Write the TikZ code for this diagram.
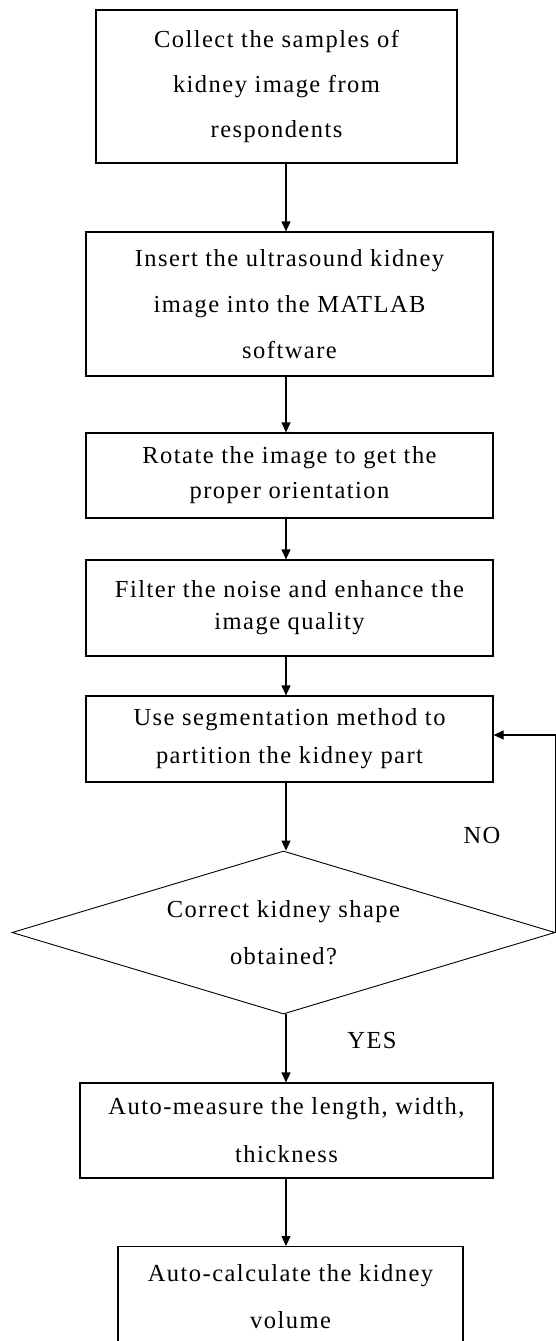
\documentclass[tikz,border=0pt]{standalone}
\usepackage{fontspec}
\setmainfont{Liberation Serif}[LetterSpace=6]
\usetikzlibrary{arrows.meta,shapes.geometric}
\begin{document}
\begin{tikzpicture}[x=1pt,y=-1pt,
  box/.style={draw, line width=1.2pt, rectangle, inner sep=0pt, align=center},
  dec/.style={draw, line width=0.9pt, diamond, aspect=3.33, inner sep=0pt, align=center},
  flow/.style={line width=1.2pt, -{Triangle[width=9pt,length=10pt]}},
  txt/.style={font=\fontsize{24.5}{#1}\selectfont},
  lbl/.style={font=\fontsize{24.5}{28}\selectfont, inner sep=0pt}
]
\useasboundingbox (0,0) rectangle (556,1341);
\coordinate (ax) at (286,0);
\coordinate (fb) at (0,735);

\node[box, txt=45, minimum width=361pt, minimum height=153pt] (b1) at (276.5,86.5)
  {Collect the samples of\\kidney image from\\respondents};
\node[box, txt=46, minimum width=407pt, minimum height=144pt] (b2) at (289.5,304)
  {Insert the ultrasound kidney\\image into the MATLAB\\software};
\node[box, txt=35, minimum width=407pt, minimum height=85pt] (b3) at (289.5,475.5)
  {Rotate the image to get the\\proper orientation};
\node[box, txt=32, minimum width=407pt, minimum height=96pt] (b4) at (289.5,608)
  {Filter the noise and enhance the\\image quality};
\node[box, txt=38, minimum width=407pt, minimum height=86pt] (b5) at (289.5,739)
  {Use segmentation method to\\partition the kidney part};
\node[dec, txt=47, minimum width=543pt, minimum height=163pt] (d) at (283.5,932.5)
  {Correct kidney shape\\obtained?};
\node[box, txt=48, minimum width=413pt, minimum height=95pt] (b6) at (286.5,1130.5)
  {Auto-measure the length, width,\\thickness};
\node[box, minimum width=345pt, minimum height=150pt, anchor=north] (b7) at (290.5,1246) {};
\node[txt=47, inner sep=0pt, align=center] (t7) at (290.5,1296.5)
  {Auto-calculate the kidney\\volume};

\node[lbl] (no) at (482,835) {NO};
\node[lbl] (yes) at (372,1040) {YES};

\draw[flow] (b1.south -| ax) -- (b2.north -| ax);
\draw[flow] (b2.south -| ax) -- (b3.north -| ax);
\draw[flow] (b3.south -| ax) -- (b4.north -| ax);
\draw[flow] (b4.south -| ax) -- (b5.north -| ax);
\draw[flow] (b5.south -| ax) -- (d.north -| ax);
\draw[flow] (d.south -| ax) -- (b6.north -| ax);
\draw[flow] (b6.south -| ax) -- (b7.north -| ax);
\draw[flow] (d.east) -- (d.east |- fb) -- (b5.east |- fb);
\end{tikzpicture}
\end{document}
